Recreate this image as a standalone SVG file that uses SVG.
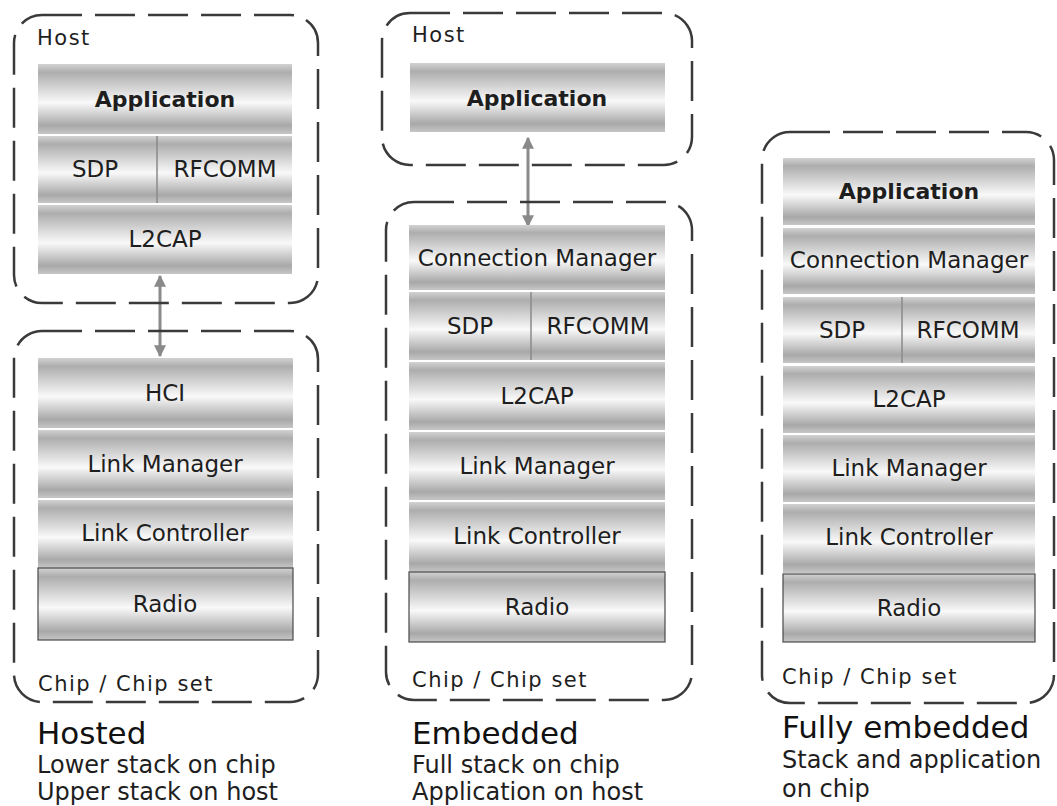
<svg xmlns="http://www.w3.org/2000/svg" width="1057" height="806" viewBox="0 0 1057 806">
<style>
.box{fill:none;stroke:#3a3a3a;stroke-width:2.5;stroke-dasharray:40 13}
.layer{fill:url(#g)}
.radio{fill:url(#g);stroke:#4a4a4a;stroke-width:1.2}
.div{stroke:#8a8a8a;stroke-width:1.5}
.t{font-family:"DejaVu Sans",Verdana,sans-serif;font-size:23px;fill:#1e1e1e;text-anchor:middle}
.b{font-weight:bold;font-size:22px}
.lbl{font-family:"DejaVu Sans",Verdana,sans-serif;font-size:21px;letter-spacing:1.5px;fill:#1e1e1e}
.title{font-family:"DejaVu Sans",Verdana,sans-serif;font-size:31px;fill:#111}
.sub{font-family:"DejaVu Sans",Verdana,sans-serif;font-size:24px;fill:#1e1e1e}
.arr{stroke:#8a8a8a;stroke-width:3;fill:none;marker-start:url(#ah);marker-end:url(#ah)}
</style>
<defs>
<linearGradient id="g" x1="0" y1="0" x2="0" y2="1">
<stop offset="0" stop-color="#d2d2d2"/>
<stop offset="0.12" stop-color="#adadad"/>
<stop offset="0.55" stop-color="#f9f9f9"/>
<stop offset="0.88" stop-color="#a8a8a8"/>
<stop offset="1" stop-color="#c6c6c6"/>
</linearGradient>
<marker id="ah" viewBox="0 0 10 10" refX="9" refY="5" markerWidth="4.5" markerHeight="4" orient="auto-start-reverse" markerUnits="strokeWidth">
<path d="M0,0 L10,5 L0,10 Z" fill="#8a8a8a"/>
</marker>
</defs>
<rect width="1057" height="806" fill="#fff"/>

<g id="connectors">
<line class="arr" x1="160" y1="276" x2="160" y2="356"/>
<line class="arr" x1="528" y1="138" x2="528" y2="226"/>
</g>

<g id="hosted-host">
<rect class="box" x="14" y="15" width="304" height="288" rx="28"/>
<text class="lbl" x="37" y="45">Host</text>
</g>
<g id="hosted-app"><rect class="layer" x="38" y="64" width="254" height="70"/><text class="t b" x="165" y="107">Application</text></g>
<g id="hosted-sdp"><rect class="layer" x="38" y="136" width="254" height="67"/><line class="div" x1="157" y1="136" x2="157" y2="203"/><text class="t" x="95" y="177">SDP</text><text class="t" x="225" y="177">RFCOMM</text></g>
<g id="hosted-l2cap"><rect class="layer" x="38" y="205" width="254" height="69"/><text class="t" x="165" y="247">L2CAP</text></g>

<g id="hosted-chip">
<rect class="box" x="14" y="331" width="304" height="371" rx="28"/>
<text class="lbl" x="38" y="691">Chip / Chip set</text>
</g>
<g id="hosted-hci"><rect class="layer" x="38" y="358" width="255" height="70"/><text class="t" x="165" y="401">HCI</text></g>
<g id="hosted-lm"><rect class="layer" x="38" y="430" width="255" height="68"/><text class="t" x="165" y="472">Link Manager</text></g>
<g id="hosted-lc"><rect class="layer" x="38" y="500" width="255" height="68"/><text class="t" x="165" y="541">Link Controller</text></g>
<g id="hosted-radio"><rect class="radio" x="38" y="568" width="255" height="72"/><text class="t" x="165" y="612">Radio</text></g>

<g id="emb-host">
<rect class="box" x="382" y="13" width="310" height="152" rx="28"/>
<text class="lbl" x="412" y="42">Host</text>
</g>
<g id="emb-app"><rect class="layer" x="410" y="63" width="255" height="69"/><text class="t b" x="537" y="106">Application</text></g>

<g id="emb-chip">
<rect class="box" x="386" y="202" width="306" height="498" rx="28"/>
<text class="lbl" x="412" y="687">Chip / Chip set</text>
</g>
<g id="emb-cm"><rect class="layer" x="409" y="225" width="256" height="65"/><text class="t" x="537" y="266">Connection Manager</text></g>
<g id="emb-sdp"><rect class="layer" x="409" y="292" width="256" height="68"/><line class="div" x1="531" y1="292" x2="531" y2="360"/><text class="t" x="470" y="334">SDP</text><text class="t" x="598" y="334">RFCOMM</text></g>
<g id="emb-l2cap"><rect class="layer" x="409" y="362" width="256" height="68"/><text class="t" x="537" y="404">L2CAP</text></g>
<g id="emb-lm"><rect class="layer" x="409" y="432" width="256" height="68"/><text class="t" x="537" y="474">Link Manager</text></g>
<g id="emb-lc"><rect class="layer" x="409" y="502" width="256" height="70"/><text class="t" x="537" y="544">Link Controller</text></g>
<g id="emb-radio"><rect class="radio" x="409" y="572" width="256" height="70"/><text class="t" x="537" y="615">Radio</text></g>

<g id="full-chip">
<rect class="box" x="762" y="132" width="292" height="571" rx="28"/>
<text class="lbl" x="782" y="684">Chip / Chip set</text>
</g>
<g id="full-app"><rect class="layer" x="783" y="158" width="252" height="67"/><text class="t b" x="909" y="199">Application</text></g>
<g id="full-cm"><rect class="layer" x="783" y="228" width="252" height="66"/><text class="t" x="909" y="268">Connection Manager</text></g>
<g id="full-sdp"><rect class="layer" x="783" y="297" width="252" height="66"/><line class="div" x1="902" y1="297" x2="902" y2="363"/><text class="t" x="842" y="338">SDP</text><text class="t" x="968" y="338">RFCOMM</text></g>
<g id="full-l2cap"><rect class="layer" x="783" y="366" width="252" height="67"/><text class="t" x="909" y="407">L2CAP</text></g>
<g id="full-lm"><rect class="layer" x="783" y="435" width="252" height="67"/><text class="t" x="909" y="476">Link Manager</text></g>
<g id="full-lc"><rect class="layer" x="783" y="504" width="252" height="69"/><text class="t" x="909" y="545">Link Controller</text></g>
<g id="full-radio"><rect class="radio" x="783" y="574" width="252" height="68"/><text class="t" x="909" y="616">Radio</text></g>

<g id="captions">
<text class="title" x="37" y="744">Hosted</text>
<text class="sub" x="37" y="773">Lower stack on chip</text>
<text class="sub" x="37" y="800">Upper stack on host</text>
<text class="title" x="412" y="744">Embedded</text>
<text class="sub" x="412" y="773">Full stack on chip</text>
<text class="sub" x="412" y="800">Application on host</text>
<text class="title" x="782" y="738">Fully embedded</text>
<text class="sub" x="782" y="768">Stack and application</text>
<text class="sub" x="782" y="797">on chip</text>
</g>
</svg>
